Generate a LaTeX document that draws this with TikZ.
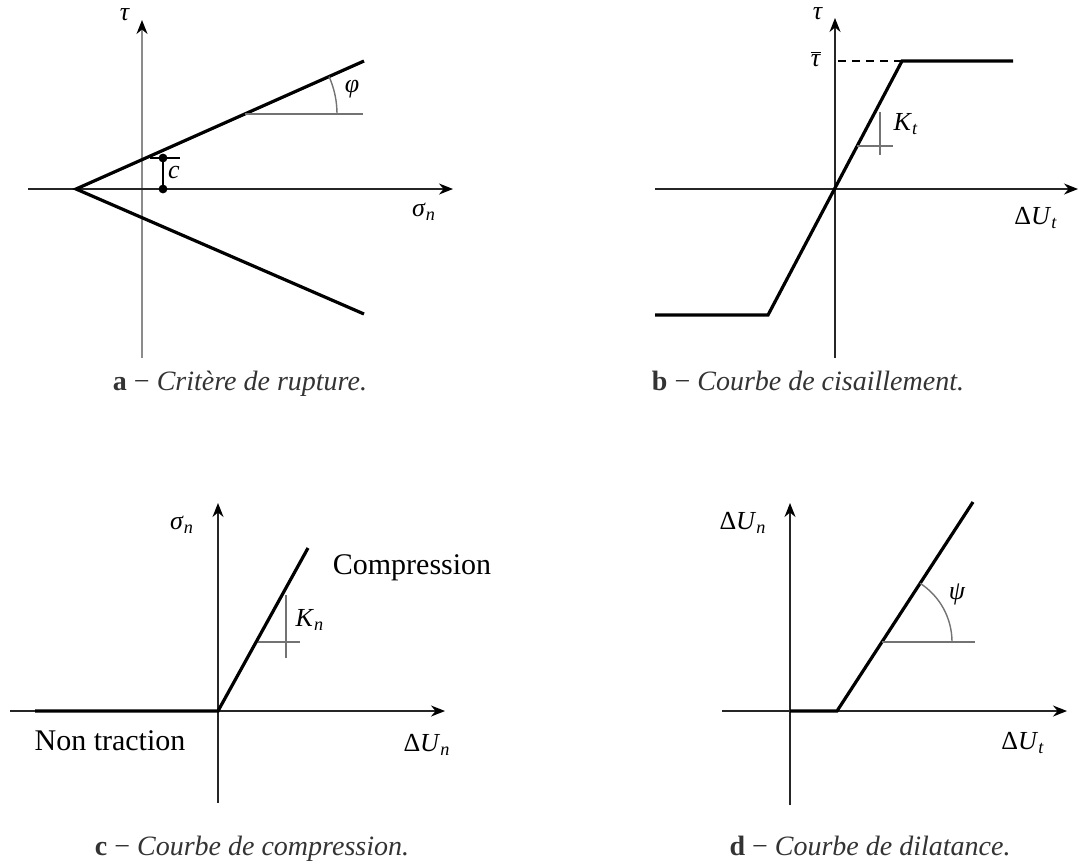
\documentclass[tikz,border=0pt]{standalone}
\usepackage{fontspec}
\setmainfont{Liberation Serif}
\usetikzlibrary{arrows.meta}
\newcommand\mi[1]{\textit{#1}}
\tikzset{
  axisline/.style={line width=0.8pt, draw=black!85, -{Stealth[length=7pt,width=5.5pt,color=black]}},
  grayaxis/.style={line width=0.9pt, draw=black!45, -{Stealth[length=7pt,width=5.5pt,color=black]}},
  law/.style={line width=1.6pt, draw=black},
  helper/.style={line width=0.7pt, draw=black!55},
  lbl/.style={font=\fontsize{13}{15}\selectfont, inner sep=0pt},
  txt/.style={font=\fontsize{15}{18}\selectfont, inner sep=0pt},
  captn/.style={font=\fontsize{14}{17}\selectfont, inner sep=0pt, text=black!80, anchor=base},
}
\begin{document}
\begin{tikzpicture}[x=0.5pt,y=-0.5pt]
\useasboundingbox (0,0) rectangle (1079,863);
% ---------------- panel a ----------------
\coordinate (aVb) at (142,358); \coordinate (aVt) at (142,20);
\coordinate (aHl) at (28,189);  \coordinate (aHr) at (453,189);
\coordinate (aA) at (76,189);
\coordinate (aU) at (364,61);   \coordinate (aL) at (364,314);
\coordinate (aP) at (245,114);  \coordinate (aPr) at (363,114);
\coordinate (aC1) at (163,158); \coordinate (aC0) at (163,189);
\coordinate (aT1) at (150,158); \coordinate (aT2) at (180,158);
\draw[grayaxis] (aVb) -- (aVt);
\draw[axisline] (aHl) -- (aHr);
\draw[law] (aU) -- (aA) -- (aL);
\draw[helper] (aP) -- (aPr);
\draw[helper] (aP) ++(92,0) arc[start angle=0,end angle=-24,radius=92];
\draw[line width=0.7pt] (aC1) -- (aC0);
\draw[line width=0.7pt] (aT1) -- (aT2);
\fill (aC1) circle[radius=2.2pt];
\fill (aC0) circle[radius=2.2pt];
\node[lbl] (atau) at (125,15) {\mi{τ}};
\node[lbl] (asig) at (424,212) {\mi{σ}\textsubscript{\mi{n}}};
\node[lbl] (aphi) at (352,89) {\mi{φ}};
\node[lbl] (ac) at (174,172) {\mi{c}};
\node[captn] (acap) at (240,390) {\textbf{a} − \textit{Critère de rupture.}};
% ---------------- panel b ----------------
\coordinate (bVb) at (835,358); \coordinate (bVt) at (835,18);
\coordinate (bHl) at (655,189); \coordinate (bHr) at (1078,189);
\coordinate (bP1) at (655,315); \coordinate (bP2) at (768,315);
\coordinate (bP3) at (902,61);  \coordinate (bP4) at (1013,61);
\coordinate (bD) at (838,61);
\coordinate (bK1) at (880,112); \coordinate (bK2) at (880,155);
\coordinate (bK3) at (857,146); \coordinate (bK4) at (893,146);
\draw[axisline] (bVb) -- (bVt);
\draw[axisline] (bHl) -- (bHr);
\draw[line width=0.7pt, dashed, dash pattern=on 4pt off 3pt] (bD) -- (bP3);
\draw[law] (bP1) -- (bP2) -- (bP3) -- (bP4);
\draw[helper] (bK1) -- (bK2);
\draw[helper] (bK3) -- (bK4);
\node[lbl] (btau) at (818,14) {\mi{τ}};
\node[lbl] (btaubar) at (816,59) {$\overline{\mbox{\mi{τ}}}$};
\node[lbl] (bK) at (906,124) {\mi{K}\textsubscript{\mi{t}}};
\node[lbl] (bdu) at (1036,218) {Δ\mi{U}\textsubscript{\mi{t}}};
\node[captn] (bcap) at (808,390) {\textbf{b} − \textit{Courbe de cisaillement.}};
% ---------------- panel c ----------------
\coordinate (cVb) at (218,803); \coordinate (cVt) at (218,503);
\coordinate (cHl) at (10,711);  \coordinate (cHr) at (445,711);
\coordinate (cP1) at (35,711);  \coordinate (cO) at (218,711);
\coordinate (cP2) at (308,548);
\coordinate (cK1) at (286,595); \coordinate (cK2) at (286,658);
\coordinate (cK3) at (258,642); \coordinate (cK4) at (300,642);
\draw[axisline] (cVb) -- (cVt);
\draw[axisline] (cHl) -- (cHr);
\draw[law] (cP1) -- (cO) -- (cP2);
\draw[helper] (cK1) -- (cK2);
\draw[helper] (cK3) -- (cK4);
\node[lbl] (csig) at (182,525) {\mi{σ}\textsubscript{\mi{n}}};
\node[txt] (ccomp) at (412,568) {Compression};
\node[lbl] (cK) at (310,620) {\mi{K}\textsubscript{\mi{n}}};
\node[txt] (cnon) at (110,741) {Non traction};
\node[lbl] (cdu) at (427,745) {Δ\mi{U}\textsubscript{\mi{n}}};
\node[captn] (ccap) at (252,855) {\textbf{c} − \textit{Courbe de compression.}};
% ---------------- panel d ----------------
\coordinate (dVb) at (790,805); \coordinate (dVt) at (790,503);
\coordinate (dHl) at (722,711); \coordinate (dHr) at (1067,711);
\coordinate (dO) at (790,711);  \coordinate (dP1) at (837,711);
\coordinate (dP2) at (973,502);
\coordinate (dA) at (882,642);  \coordinate (dAr) at (975,642);
\draw[axisline] (dVb) -- (dVt);
\draw[axisline] (dHl) -- (dHr);
\draw[law] (dO) -- (dP1) -- (dP2);
\draw[helper] (dA) -- (dAr);
\draw[helper] (dA) ++(70,0) arc[start angle=0,end angle=-57,radius=70];
\node[lbl] (ddun) at (743,523) {Δ\mi{U}\textsubscript{\mi{n}}};
\node[lbl] (dpsi) at (957,594) {\mi{ψ}};
\node[lbl] (ddut) at (1023,743) {Δ\mi{U}\textsubscript{\mi{t}}};
\node[captn] (dcap) at (870,855) {\textbf{d} − \textit{Courbe de dilatance.}};
\end{tikzpicture}
\end{document}
